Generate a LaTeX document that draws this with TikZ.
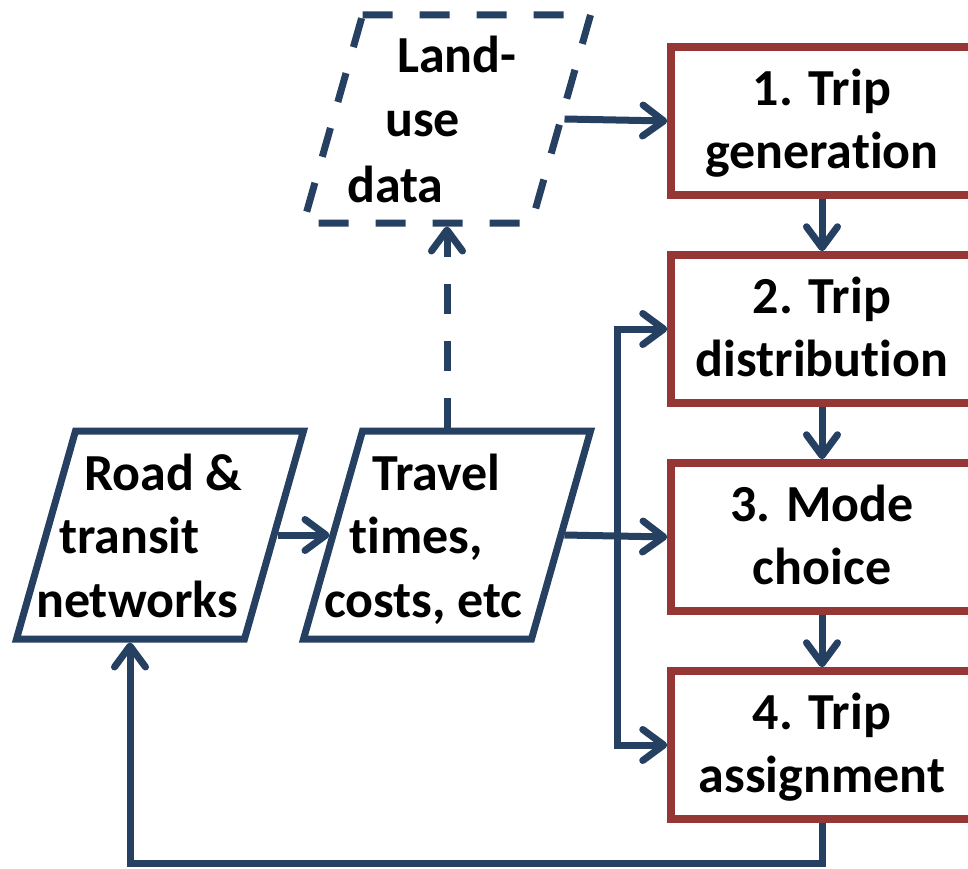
\documentclass[tikz,border=0pt]{standalone}
\usepackage{fontspec}
\setmainfont{Carlito}[Ligatures={NoCommon}]
\usetikzlibrary{arrows.meta,calc}
\definecolor{navy}{RGB}{38,64,97}
\definecolor{brick}{RGB}{149,55,53}
\newcommand{\twol}[2]{\rule{0pt}{45pt}#1\\#2\rule[-13pt]{0pt}{13pt}}
\begin{document}
\begin{tikzpicture}[x=1pt,y=-1pt,
  bigfont/.style={font=\fontsize{52pt}{63pt}\selectfont\bfseries},
  stepbox/.style={draw=brick, line width=7.5pt, minimum width=302pt, minimum height=148pt, inner sep=0pt, align=center, bigfont},
  paraframe/.style={minimum width=287pt, minimum height=208pt, inner sep=0pt, outer sep=3.5pt},
  txt/.style={anchor=base west, inner sep=0pt, bigfont},
  conn/.style={draw=navy, line width=7pt, -{Straight Barb[length=21pt,width=31pt,round]}},
  plain/.style={draw=navy, line width=7pt},
  dashpat/.style={dash pattern=on 30pt off 27pt}
]
\useasboundingbox (0,0) rectangle (968,869);

% process boxes
\node[stepbox] (b1) at (822,121) {\twol{1. Trip}{generation}};
\node[stepbox] (b2) at (822,329) {\twol{2. Trip}{distribution}};
\node[stepbox] (b3) at (822,537) {\twol{3. Mode}{choice}};
\node[stepbox] (b4) at (822,745) {\twol{4. Trip}{assignment}};

% parallelogram frames
\node[paraframe] (road) at (160,535) {};
\node[paraframe] (travel) at (447,535) {};
\node[paraframe] (land) at (447,119) {};

\draw[plain, shift={(road.center)}] (-84.5,-104) -- (143.5,-104) -- (84.5,104) -- (-143.5,104) -- cycle;
\draw[plain, shift={(travel.center)}] (-84.5,-104) -- (143.5,-104) -- (84.5,104) -- (-143.5,104) -- cycle;
\draw[plain, dashpat, shift={(land.center)}] (-84.5,-104) -- (143.5,-104) -- (84.5,104) -- (-143.5,104) -- cycle;

% texts
\node[txt] (r1) at (84,490) {Road \&};
\node[txt] (r2) at (59,553) {transit};
\node[txt] (r3) at (36,617) {networks};
\node[txt] (t1) at (372,490) {Travel};
\node[txt] (t2) at (349,553) {times,};
\node[txt] (t3) at (324,617) {costs, etc};
\node[txt] (l1) at (397,73) {Land-};
\node[txt] (l2) at (385,137) {use};
\node[txt] (l3) at (347,202) {data};

% connectors
\draw[conn] (b1.south) -- (b2.north);
\draw[conn] (b2.south) -- (b3.north);
\draw[conn] (b3.south) -- (b4.north);

\draw[conn] ($(land.east)+(-29.5,0)$) -- (b1.west);
\draw[conn] ($(road.east)+(-29.5,0)$) -- ($(travel.west)+(29.5,0)$);
\draw[conn] ($(travel.east)+(-29.5,0)$) -- (b3.west);
\draw[conn, dashpat] (travel.north) -- (land.south);

\coordinate (j2) at (617,329);
\coordinate (j4) at (617,745);
\draw[conn] (j4) -- (j2) -- (b2.west);
\draw[conn] (j2) -- (j4) -- (b4.west);

\coordinate (fbl) at (130,863);
\draw[conn] (b4.south) |- (fbl) -- (fbl |- road.south);
\end{tikzpicture}
\end{document}
